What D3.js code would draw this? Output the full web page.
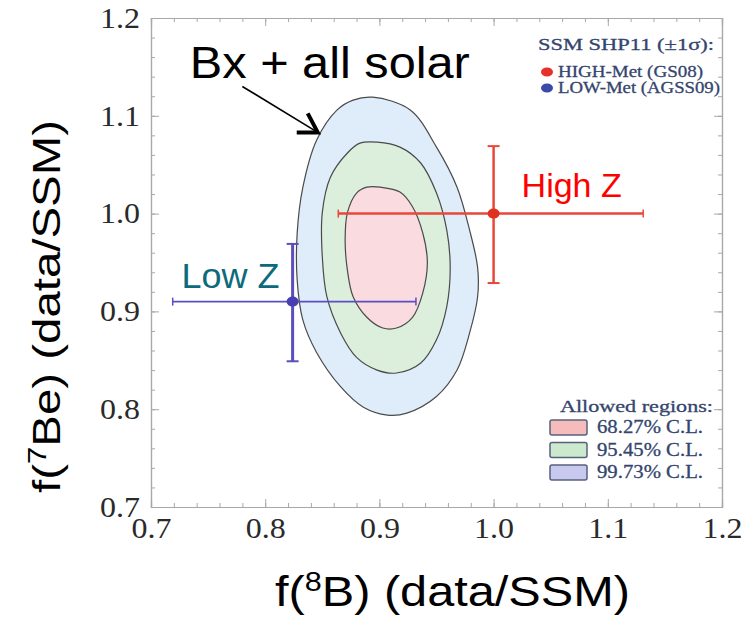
<!DOCTYPE html>
<html>
<head>
<meta charset="utf-8">
<script src="https://cdn.jsdelivr.net/npm/d3@7"></script>
<style>
  body { margin: 0; background: #fff; }
</style>
</head>
<body>
<div class="chart"></div>
<script>
// contours: [f(8B), f(7Be)]
var cl9973 = [[0.894,1.119],[0.927,1.106],[0.950,1.068],[0.968,1.027],[0.979,0.983],[0.986,0.945],[0.986,0.915],[0.979,0.878],[0.968,0.840],[0.950,0.813],[0.924,0.796],[0.907,0.794],[0.886,0.802],[0.866,0.823],[0.845,0.858],[0.833,0.891],[0.828,0.932],[0.828,0.980],[0.833,1.027],[0.845,1.075],[0.863,1.106],[0.877,1.116]];
var cl9545 = [[0.898,1.073],[0.918,1.068],[0.936,1.052],[0.950,1.021],[0.959,0.983],[0.962,0.945],[0.959,0.905],[0.950,0.871],[0.936,0.847],[0.915,0.837],[0.898,0.840],[0.880,0.853],[0.866,0.878],[0.854,0.915],[0.850,0.956],[0.850,1.001],[0.857,1.037],[0.872,1.062],[0.883,1.072]];
var cl6827 = [[0.901,1.027],[0.918,1.022],[0.929,1.007],[0.938,0.980],[0.942,0.950],[0.938,0.919],[0.929,0.894],[0.915,0.883],[0.903,0.883],[0.889,0.894],[0.877,0.915],[0.872,0.942],[0.870,0.973],[0.872,1.001],[0.880,1.021],[0.889,1.027]];

// SSM points with error bars
var modelNames = ["HIGH-Met (GS08)", "LOW-Met (AGSS09)"];
var modelB8 = [1.000, 0.824];
var modelB8lo = [0.864, 0.719];
var modelB8hi = [1.131, 0.932];
var modelBe7 = [1.000, 0.910];
var modelBe7lo = [0.929, 0.849];
var modelBe7hi = [1.069, 0.969];

var clLabels = ["68.27% C.L.", "95.45% C.L.", "99.73% C.L."];
var xTicks = [0.7, 0.8, 0.9, 1.0, 1.1, 1.2];
var yTicks = [0.7, 0.8, 0.9, 1.0, 1.1, 1.2];

var W = 741, H = 619;
var margin = {top: 18, right: 19, bottom: 112, left: 151};
var width = W - margin.left - margin.right;
var height = H - margin.top - margin.bottom;

var svg = d3.select(".chart")
    .append("svg")
    .attr("width", W)
    .attr("height", H)
    .style("font-family", "'Liberation Sans', Arial, sans-serif");

var g = svg.append("g")
    .attr("transform", "translate(" + margin.left + "," + margin.top + ")");

var x = d3.scaleLinear().domain([0.7, 1.2]).range([0, width]);
var y = d3.scaleLinear().domain([0.7, 1.2]).range([height, 0]);

// contours
var contour = d3.line()
    .x(function(d) { return x(d[0]); })
    .y(function(d) { return y(d[1]); })
    .curve(d3.curveCatmullRomClosed);

var regions = [cl9973, cl9545, cl6827];
var fills = ["#deedf9", "#dcefdc", "#f9dbe0"];
regions.forEach(function(r, i) {
  g.append("path")
    .datum(r)
    .attr("d", contour)
    .attr("fill", fills[i])
    .attr("stroke", "#4a4a4a")
    .attr("stroke-width", 1.2);
});

// frame + ticks
var minor = d3.range(0.7, 1.2001, 0.02);
function tickAxis(axis, size, tv) {
  return axis.tickValues(tv).tickSize(size).tickFormat("");
}
var axG = g.append("g").attr("class", "frame");
axG.append("g").attr("transform", "translate(0," + height + ")").call(tickAxis(d3.axisBottom(x), -4, minor));
axG.append("g").attr("transform", "translate(0," + height + ")").call(tickAxis(d3.axisBottom(x), -8, xTicks));
axG.append("g").call(tickAxis(d3.axisTop(x), -4, minor));
axG.append("g").call(tickAxis(d3.axisTop(x), -8, xTicks));
axG.append("g").call(tickAxis(d3.axisLeft(y), -4, minor));
axG.append("g").call(tickAxis(d3.axisLeft(y), -8, yTicks));
axG.append("g").attr("transform", "translate(" + width + ",0)").call(tickAxis(d3.axisRight(y), -4, minor));
axG.append("g").attr("transform", "translate(" + width + ",0)").call(tickAxis(d3.axisRight(y), -8, yTicks));
axG.selectAll("path.domain").attr("stroke", "#a8a8a8").attr("stroke-width", 1.2);
axG.selectAll(".tick line").attr("stroke", "#a8a8a8");

// tick labels
var xl = g.append("g")
    .attr("transform", "translate(0," + height + ")")
    .call(d3.axisBottom(x).tickValues(xTicks).tickSize(0).tickPadding(10).tickFormat(d3.format(".1f")));
var yl = g.append("g")
    .call(d3.axisLeft(y).tickValues(yTicks).tickSize(0).tickPadding(11).tickFormat(d3.format(".1f")));
[xl, yl].forEach(function(a) {
  a.select(".domain").remove();
  a.selectAll("text")
    .attr("font-family", "'Liberation Serif', 'Times New Roman', serif")
    .attr("font-size", 29)
    .attr("textLength", 40).attr("lengthAdjust", "spacingAndGlyphs")
    .attr("fill", "#2a2a2a");
});

// error bars
var colors = ["#e8473c", "#5a4fbf"];
var hw = [2.5, 1.6], vw = [2.5, 3];
modelB8.forEach(function(v, i) {
  var c = colors[i];
  g.append("line").attr("x1", x(modelB8lo[i])).attr("x2", x(modelB8hi[i]))
    .attr("y1", y(modelBe7[i])).attr("y2", y(modelBe7[i]))
    .attr("stroke", c).attr("stroke-width", hw[i]);
  g.append("line").attr("x1", x(v)).attr("x2", x(v))
    .attr("y1", y(modelBe7lo[i])).attr("y2", y(modelBe7hi[i]))
    .attr("stroke", c).attr("stroke-width", vw[i]);
  // caps
  [modelB8lo[i], modelB8hi[i]].forEach(function(e) {
    g.append("line").attr("x1", x(e)).attr("x2", x(e))
      .attr("y1", y(modelBe7[i]) - 4).attr("y2", y(modelBe7[i]) + 4)
      .attr("stroke", c).attr("stroke-width", 1.5);
  });
  [modelBe7lo[i], modelBe7hi[i]].forEach(function(e) {
    g.append("line").attr("x1", x(v) - 6).attr("x2", x(v) + 6)
      .attr("y1", y(e)).attr("y2", y(e))
      .attr("stroke", c).attr("stroke-width", 2);
  });
  g.append("ellipse").attr("cx", x(v)).attr("cy", y(modelBe7[i]))
    .attr("rx", 6).attr("ry", 5).attr("fill", i == 0 ? "#e0301f" : "#4a3fb0");
});

// labels on the points
g.append("text").attr("x", x(1.0) + 28).attr("y", y(1.0) - 17)
  .text("High Z").attr("fill", "#ff0000").attr("font-size", 34);
g.append("text").attr("x", x(0.824) - 111).attr("y", y(0.91) - 14)
  .text("Low Z").attr("fill", "#0d6a7b").attr("font-size", 35)
  .attr("textLength", 98).attr("lengthAdjust", "spacingAndGlyphs");

// annotation
g.append("text").attr("x", x(0.734)).attr("y", y(1.139))
  .text("Bx + all solar").attr("fill", "#000").attr("font-size", 44)
  .attr("textLength", 280).attr("lengthAdjust", "spacingAndGlyphs");
var ax0 = [0.780, 1.130], ax1 = [0.846, 1.083];
g.append("line").attr("x1", x(ax0[0])).attr("y1", y(ax0[1]))
  .attr("x2", x(ax1[0])).attr("y2", y(ax1[1]))
  .attr("stroke", "#000").attr("stroke-width", 1.6);
g.append("path")
  .attr("d", "M" + (x(ax1[0]) - 21) + "," + y(ax1[1]) + "L" + x(ax1[0]) + "," + y(ax1[1]) + "L" + (x(ax1[0]) - 10) + "," + (y(ax1[1]) - 19))
  .attr("fill", "none").attr("stroke", "#000").attr("stroke-width", 4)
  .attr("stroke-linejoin", "miter");

// legend top right
var serif = "'Liberation Serif', 'Times New Roman', serif";
var legC = "#34456e";
var lg = svg.append("g").attr("font-family", serif).attr("fill", legC)
  .attr("stroke", legC).attr("stroke-width", 0.3);
lg.append("text").attr("x", 538).attr("y", 50).attr("font-size", 17)
  .attr("textLength", 176).attr("lengthAdjust", "spacingAndGlyphs").text("SSM SHP11 (\u00b11\u03c3):");
var legW = [145, 162];
modelNames.forEach(function(n, i) {
  lg.append("ellipse").attr("cx", 547).attr("cy", 72 + i * 16).attr("rx", 6).attr("ry", 4.5)
    .attr("stroke", "none").attr("fill", i == 0 ? "#e8302a" : "#3a4aa8");
  lg.append("text").attr("x", 558).attr("y", 77 + i * 16).attr("font-size", 16)
    .attr("textLength", legW[i]).attr("lengthAdjust", "spacingAndGlyphs").text(n);
});

// legend bottom right
var lb = svg.append("g").attr("font-family", serif).attr("fill", legC)
  .attr("stroke", legC).attr("stroke-width", 0.3);
lb.append("text").attr("x", 560).attr("y", 412).attr("font-size", 17)
  .attr("textLength", 153).attr("lengthAdjust", "spacingAndGlyphs").text("Allowed regions:");
var boxFill = ["#f6bcbc", "#cde9cd", "#c9c9ef"];
clLabels.forEach(function(t, i) {
  var yy = 420 + i * 22.5;
  lb.append("rect").attr("x", 550).attr("y", yy).attr("width", 37).attr("height", 15).attr("rx", 2)
    .attr("fill", boxFill[i]).attr("stroke", "#55627e").attr("stroke-width", 1.5);
  lb.append("text").attr("x", 597).attr("y", yy + 13).attr("font-size", 18)
    .attr("textLength", 106).attr("lengthAdjust", "spacingAndGlyphs").text(t);
});

// axis titles
var xt = svg.append("text").attr("x", 275).attr("y", 606).attr("font-size", 43).attr("fill", "#000")
  .attr("textLength", 355).attr("lengthAdjust", "spacingAndGlyphs");
xt.append("tspan").text("f(");
xt.append("tspan").attr("font-size", 27).attr("dy", -15).text("8");
xt.append("tspan").attr("dy", 15).text("B) (data/SSM)");

var yt = svg.append("text").attr("transform", "translate(60,493) rotate(-90)")
  .attr("font-size", 38).attr("fill", "#000")
  .attr("textLength", 373).attr("lengthAdjust", "spacingAndGlyphs");
yt.append("tspan").text("f(");
yt.append("tspan").attr("font-size", 25).attr("dy", -14).text("7");
yt.append("tspan").attr("dy", 14).text("Be) (data/SSM)");
</script>
</body>
</html>
